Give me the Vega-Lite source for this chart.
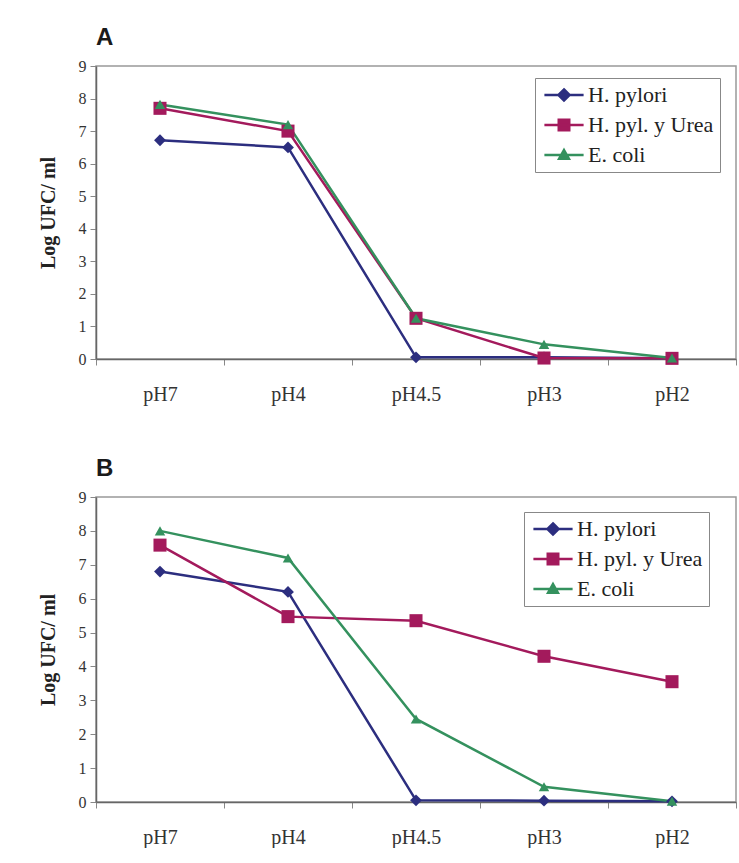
{
  "$schema": "https://vega.github.io/schema/vega-lite/v6.json",
  "background": "#ffffff",
  "padding": {"left": 37, "top": 25, "right": 0, "bottom": 0},
  "config": {
    "view": {"stroke": "#999999", "strokeWidth": 1.5},
    "axis": {"grid": false, "domainColor": "#666666", "tickColor": "#888888", "domainWidth": 1.5},
    "legend": {"labelFont": "Liberation Serif", "labelFontSize": 22, "labelColor": "#222222"}
  },
  "datasets": {
    "A": [
      {"ph": "pH7", "serie": "H. pylori", "v": 6.72},
      {"ph": "pH4", "serie": "H. pylori", "v": 6.5},
      {"ph": "pH4.5", "serie": "H. pylori", "v": 0.05},
      {"ph": "pH3", "serie": "H. pylori", "v": 0.05},
      {"ph": "pH2", "serie": "H. pylori", "v": 0.02},
      {"ph": "pH7", "serie": "H. pyl. y Urea", "v": 7.7},
      {"ph": "pH4", "serie": "H. pyl. y Urea", "v": 7.0},
      {"ph": "pH4.5", "serie": "H. pyl. y Urea", "v": 1.25},
      {"ph": "pH3", "serie": "H. pyl. y Urea", "v": 0.03},
      {"ph": "pH2", "serie": "H. pyl. y Urea", "v": 0.02},
      {"ph": "pH7", "serie": "E. coli", "v": 7.82},
      {"ph": "pH4", "serie": "E. coli", "v": 7.2},
      {"ph": "pH4.5", "serie": "E. coli", "v": 1.25},
      {"ph": "pH3", "serie": "E. coli", "v": 0.45},
      {"ph": "pH2", "serie": "E. coli", "v": 0.03}
    ],
    "B": [
      {"ph": "pH7", "serie": "H. pylori", "v": 6.8},
      {"ph": "pH4", "serie": "H. pylori", "v": 6.2},
      {"ph": "pH4.5", "serie": "H. pylori", "v": 0.05},
      {"ph": "pH3", "serie": "H. pylori", "v": 0.04},
      {"ph": "pH2", "serie": "H. pylori", "v": 0.02},
      {"ph": "pH7", "serie": "H. pyl. y Urea", "v": 7.58},
      {"ph": "pH4", "serie": "H. pyl. y Urea", "v": 5.47},
      {"ph": "pH4.5", "serie": "H. pyl. y Urea", "v": 5.35},
      {"ph": "pH3", "serie": "H. pyl. y Urea", "v": 4.3},
      {"ph": "pH2", "serie": "H. pyl. y Urea", "v": 3.55},
      {"ph": "pH7", "serie": "E. coli", "v": 8.0},
      {"ph": "pH4", "serie": "E. coli", "v": 7.2},
      {"ph": "pH4.5", "serie": "E. coli", "v": 2.45},
      {"ph": "pH3", "serie": "E. coli", "v": 0.45},
      {"ph": "pH2", "serie": "E. coli", "v": 0.02}
    ]
  },
  "spacing": 51,
  "resolve": {
    "scale": {"color": "independent", "shape": "independent", "size": "independent"},
    "legend": {"color": "independent", "shape": "independent", "size": "independent"}
  },
  "vconcat": [
    {
      "width": 640,
      "height": 293,
      "data": {"name": "A"},
      "title": {"text": "A", "anchor": "start", "frame": "group", "font": "Liberation Sans", "fontWeight": "bold", "fontSize": 24, "offset": 8, "color": "#1a1a1a"},
      "encoding": {
        "x": {"field": "ph", "type": "ordinal", "sort": ["pH7", "pH4", "pH4.5", "pH3", "pH2"],
          "scale": {"type": "band", "paddingInner": 0, "paddingOuter": 0},
          "axis": {"title": null, "labelFont": "Liberation Serif", "labelFontSize": 20, "labelColor": "#333333", "labelPadding": 19, "tickBand": "extent", "tickSize": 6, "labelAngle": 0}},
        "y": {"field": "v", "type": "quantitative", "scale": {"domain": [0, 9], "nice": false},
          "axis": {"title": "Log UFC/ ml", "titleFont": "Liberation Serif", "titleFontSize": 20, "titleFontWeight": "bold", "titleColor": "#222222", "titlePadding": 20, "values": [0, 1, 2, 3, 4, 5, 6, 7, 8, 9], "labelFont": "Liberation Serif", "labelFontSize": 16, "labelColor": "#333333", "tickSize": 6, "labelPadding": 4}}
      },
      "layer": [
        {"mark": {"type": "line", "strokeWidth": 2.5},
          "encoding": {
            "color": {"field": "serie", "type": "nominal",
              "scale": {"domain": ["H. pylori", "H. pyl. y Urea", "E. coli"], "range": ["#2c2e7f", "#a31a5c", "#34915e"]},
              "legend": {"orient": "none", "legendX": 439, "legendY": 12, "title": null, "strokeColor": "#888888", "fillColor": "#ffffff", "padding": 6,
                "labelFont": "Liberation Serif", "labelFontSize": 22, "labelColor": "#222222", "labelLimit": 300,
                "symbolSize": 196, "symbolStrokeWidth": 2.5, "symbolOffset": 12, "labelOffset": 13, "rowPadding": 8,
                "encode": {"symbols": {"update": {
                  "shape": {"signal": "datum.value === 'H. pylori' ? 'M-2.8,0H2.8M0,-0.8L0.8,0L0,0.8L-0.8,0Z' : datum.value === 'H. pyl. y Urea' ? 'M-2.8,0H2.8M-0.75,-0.75H0.75V0.75H-0.75Z' : 'M-2.8,0H2.8M0,-0.7L0.7,0.55L-0.7,0.55Z'"},
                  "fill": {"signal": "datum.value === 'H. pylori' ? '#2c2e7f' : datum.value === 'H. pyl. y Urea' ? '#a31a5c' : '#34915e'"},
                  "stroke": {"signal": "datum.value === 'H. pylori' ? '#2c2e7f' : datum.value === 'H. pyl. y Urea' ? '#a31a5c' : '#34915e'"},
                  "strokeWidth": {"value": 2.5},
                  "opacity": {"value": 1}
                }}}}}
          }},
        {"mark": {"type": "point", "filled": true, "opacity": 1},
          "encoding": {
            "color": {"field": "serie", "type": "nominal", "legend": null},
            "shape": {"field": "serie", "type": "nominal", "scale": {"domain": ["E. coli", "H. pyl. y Urea", "H. pylori"], "range": ["triangle-up", "square", "diamond"]}, "legend": null},
            "size": {"field": "serie", "type": "nominal", "scale": {"domain": ["H. pyl. y Urea", "H. pylori", "E. coli"], "range": [170, 110, 80]}, "legend": null}
          }}
      ]
    },
    {
      "width": 640,
      "height": 305,
      "data": {"name": "B"},
      "title": {"text": "B", "anchor": "start", "frame": "group", "font": "Liberation Sans", "fontWeight": "bold", "fontSize": 24, "offset": 8, "color": "#1a1a1a"},
      "encoding": {
        "x": {"field": "ph", "type": "ordinal", "sort": ["pH7", "pH4", "pH4.5", "pH3", "pH2"],
          "scale": {"type": "band", "paddingInner": 0, "paddingOuter": 0},
          "axis": {"title": null, "labelFont": "Liberation Serif", "labelFontSize": 20, "labelColor": "#333333", "labelPadding": 19, "tickBand": "extent", "tickSize": 6, "labelAngle": 0}},
        "y": {"field": "v", "type": "quantitative", "scale": {"domain": [0, 9], "nice": false},
          "axis": {"title": "Log UFC/ ml", "titleFont": "Liberation Serif", "titleFontSize": 20, "titleFontWeight": "bold", "titleColor": "#222222", "titlePadding": 20, "values": [0, 1, 2, 3, 4, 5, 6, 7, 8, 9], "labelFont": "Liberation Serif", "labelFontSize": 16, "labelColor": "#333333", "tickSize": 6, "labelPadding": 4}}
      },
      "layer": [
        {"mark": {"type": "line", "strokeWidth": 2.5},
          "encoding": {
            "color": {"field": "serie", "type": "nominal",
              "scale": {"domain": ["H. pylori", "H. pyl. y Urea", "E. coli"], "range": ["#2c2e7f", "#a31a5c", "#34915e"]},
              "legend": {"orient": "none", "legendX": 428, "legendY": 15, "title": null, "strokeColor": "#888888", "fillColor": "#ffffff", "padding": 6,
                "labelFont": "Liberation Serif", "labelFontSize": 22, "labelColor": "#222222", "labelLimit": 300,
                "symbolSize": 196, "symbolStrokeWidth": 2.5, "symbolOffset": 12, "labelOffset": 13, "rowPadding": 8,
                "encode": {"symbols": {"update": {
                  "shape": {"signal": "datum.value === 'H. pylori' ? 'M-2.8,0H2.8M0,-0.8L0.8,0L0,0.8L-0.8,0Z' : datum.value === 'H. pyl. y Urea' ? 'M-2.8,0H2.8M-0.75,-0.75H0.75V0.75H-0.75Z' : 'M-2.8,0H2.8M0,-0.7L0.7,0.55L-0.7,0.55Z'"},
                  "fill": {"signal": "datum.value === 'H. pylori' ? '#2c2e7f' : datum.value === 'H. pyl. y Urea' ? '#a31a5c' : '#34915e'"},
                  "stroke": {"signal": "datum.value === 'H. pylori' ? '#2c2e7f' : datum.value === 'H. pyl. y Urea' ? '#a31a5c' : '#34915e'"},
                  "strokeWidth": {"value": 2.5},
                  "opacity": {"value": 1}
                }}}}}
          }},
        {"mark": {"type": "point", "filled": true, "opacity": 1},
          "encoding": {
            "color": {"field": "serie", "type": "nominal", "legend": null},
            "shape": {"field": "serie", "type": "nominal", "scale": {"domain": ["E. coli", "H. pyl. y Urea", "H. pylori"], "range": ["triangle-up", "square", "diamond"]}, "legend": null},
            "size": {"field": "serie", "type": "nominal", "scale": {"domain": ["H. pyl. y Urea", "H. pylori", "E. coli"], "range": [170, 110, 80]}, "legend": null}
          }}
      ]
    }
  ]
}
